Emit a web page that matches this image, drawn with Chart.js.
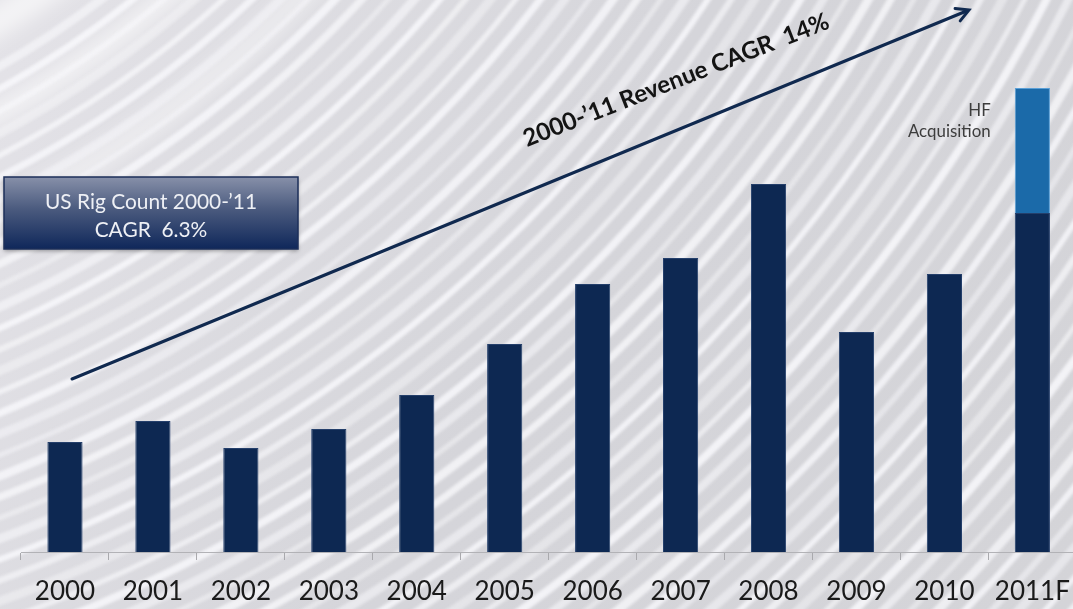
<!DOCTYPE html>
<html>
<head>
<meta charset="utf-8">
<script src="https://cdn.jsdelivr.net/npm/chart.js@4"></script>
<style>
  html, body { margin: 0; padding: 0; overflow: hidden; background: #dcdce0; }
  #chart { position: absolute; left: 0; top: 0; }
</style>
</head>
<body>
<canvas id="chart" width="1086" height="609"></canvas>
<script>
// values (arbitrary revenue units)
const years = ["2000", "2001", "2002", "2003", "2004", "2005", "2006", "2007", "2008", "2009", "2010", "2011F"];
const coreRevenue = [110, 131, 104, 123, 157, 208, 268, 294, 368, 220, 278, 339];
const hfAcquisition = [null, null, null, null, null, null, null, null, null, null, null, 125];
const arrowLabel = "2000-\u201911 Revenue CAGR  14%";
const rigBoxLines = ["US Rig Count 2000-\u201911", "CAGR  6.3%"];
const hfLabelLines = ["HF", "Acquisition"];

const FONT = "Lato, 'Open Sans', sans-serif";

// size a font so a string fills a given width
function fitFont(ctx, text, weight, width) {
  ctx.font = weight + " 20px " + FONT;
  const w = ctx.measureText(text).width;
  return weight + " " + (20 * width / w).toFixed(1) + "px " + FONT;
}

const backdrop = {
  id: "backdrop",
  beforeDraw(chart) {
    const ctx = chart.ctx;
    const W = chart.width, H = chart.height;
    ctx.save();
    const g = ctx.createLinearGradient(0, 0, W, H);
    g.addColorStop(0, "#e4e3e8");
    g.addColorStop(0.5, "#d5d5da");
    g.addColorStop(1, "#d4d4d8");
    ctx.fillStyle = g;
    ctx.fillRect(0, 0, W, H);

    const cx = -500, cy = -800;
    // broad soft glows top-left
    ctx.filter = "blur(9px)";
    [[960, 30, 0.6], [1040, 22, 0.55], [1130, 26, 0.4]].forEach(([r, w, a]) => {
      ctx.strokeStyle = "rgba(255,255,255," + a + ")";
      ctx.lineWidth = w;
      ctx.beginPath();
      ctx.arc(cx, cy, r, 0, Math.PI / 2);
      ctx.stroke();
    });
    // fine streaks
    ctx.filter = "blur(1.6px)";
    for (let i = 0; i < 62; i++) {
      const r = 1000 + i * 19.5;
      const a = 0.45 + 0.4 * (0.5 + 0.5 * Math.sin(i * 1.7));
      const w = 5 + 4 * (0.5 + 0.5 * Math.sin(i * 2.3 + 1));
      ctx.strokeStyle = "rgba(248,248,251," + a.toFixed(2) + ")";
      ctx.lineWidth = w;
      ctx.beginPath();
      ctx.arc(cx, cy, r, 0, Math.PI / 2);
      ctx.stroke();
    }
    ctx.filter = "none";
    ctx.restore();
  }
};

const notes = {
  id: "notes",
  afterDraw(chart) {
    const ctx = chart.ctx;
    ctx.save();

    // growth arrow
    const x0 = 72, y0 = 379, x1 = 969, y1 = 10;
    const ang = Math.atan2(y1 - y0, x1 - x0);
    ctx.strokeStyle = "#10294f";
    ctx.lineWidth = 3;
    ctx.lineCap = "round";
    ctx.beginPath();
    ctx.moveTo(x0, y0);
    ctx.lineTo(x1 - 2 * Math.cos(ang), y1 - 2 * Math.sin(ang));
    ctx.stroke();
    ctx.beginPath();
    ctx.moveTo(x1 - 14 * Math.cos(ang - 0.5), y1 - 14 * Math.sin(ang - 0.5));
    ctx.lineTo(x1, y1);
    ctx.lineTo(x1 - 14 * Math.cos(ang + 0.5), y1 - 14 * Math.sin(ang + 0.5));
    ctx.stroke();

    // arrow caption
    ctx.save();
    ctx.translate(527, 147);
    ctx.rotate(-21.4 * Math.PI / 180);
    ctx.font = fitFont(ctx, arrowLabel, "bold", 326);
    ctx.fillStyle = "#141414";
    ctx.textBaseline = "alphabetic";
    ctx.textAlign = "left";
    ctx.fillText(arrowLabel, 0, 0);
    ctx.restore();

    // rig count box
    const bx = 4, by = 177, bw = 294, bh = 72;
    ctx.save();
    ctx.shadowColor = "rgba(0,0,0,0.35)";
    ctx.shadowBlur = 4;
    ctx.shadowOffsetY = 2;
    const bg = ctx.createLinearGradient(0, by, 0, by + bh);
    bg.addColorStop(0, "#8790a9");
    bg.addColorStop(0.45, "#4a5a7e");
    bg.addColorStop(1, "#0f275a");
    ctx.fillStyle = bg;
    ctx.fillRect(bx, by, bw, bh);
    ctx.restore();
    ctx.strokeStyle = "#1c2f5a";
    ctx.lineWidth = 1.5;
    ctx.strokeRect(bx, by, bw, bh);
    ctx.fillStyle = "#eef0f5";
    ctx.textAlign = "center";
    ctx.textBaseline = "middle";
    ctx.font = fitFont(ctx, rigBoxLines[0], "normal", 212);
    ctx.fillText(rigBoxLines[0], bx + bw / 2, 202);
    ctx.fillText(rigBoxLines[1], bx + bw / 2, 230);

    // HF acquisition label beside the top segment
    const bar = chart.getDatasetMeta(1).data[years.length - 1];
    ctx.fillStyle = "#3c3c3c";
    ctx.textAlign = "right";
    ctx.font = fitFont(ctx, hfLabelLines[1], "normal", 83);
    const lx = bar.x - bar.width / 2 - 24;
    ctx.fillText(hfLabelLines[0], lx, bar.y + 23);
    ctx.fillText(hfLabelLines[1], lx, bar.y + 44);
    ctx.restore();
  }
};

new Chart(document.getElementById("chart"), {
  type: "bar",
  data: {
    labels: years,
    datasets: [
      {
        label: "Revenue",
        data: coreRevenue,
        backgroundColor: "#0d2852",
        borderColor: "#243f6b",
        borderWidth: 1,
        barPercentage: 0.4,
        categoryPercentage: 1
      },
      {
        label: "HF Acquisition",
        data: hfAcquisition,
        backgroundColor: "#1b6aa9",
        borderColor: "#5a9fd6",
        borderWidth: 1,
        barPercentage: 0.4,
        categoryPercentage: 1
      }
    ]
  },
  options: {
    responsive: false,
    animation: false,
    layout: { padding: { left: 21, right: 3, top: 52, bottom: 0 } },
    plugins: { legend: { display: false }, tooltip: { enabled: false } },
    scales: {
      x: {
        stacked: true,
        afterFit: (s) => { s.height = 57; },
        grid: { drawOnChartArea: false, tickLength: 8, color: "#a9a9ad", offset: true },
        border: { color: "#b2b2b6", width: 1 },
        ticks: { color: "#1a1a1a", font: { family: FONT, size: 26 }, padding: 16, maxRotation: 0 }
      },
      y: {
        stacked: true,
        display: false,
        min: 0,
        max: 500
      }
    }
  },
  plugins: [backdrop, notes]
});
</script>
</body>
</html>
